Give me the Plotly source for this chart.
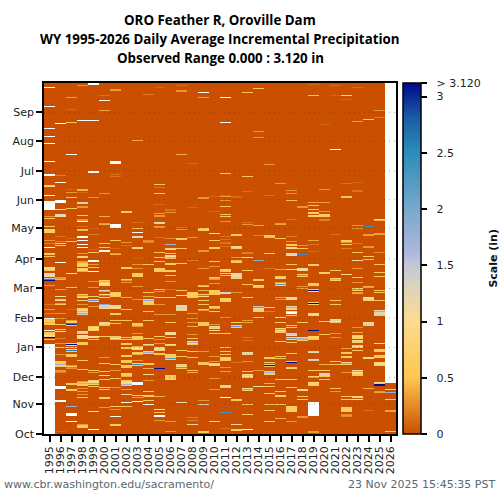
import numpy as np
import plotly.graph_objects as go

# Water years, one column each
years = list(range(1995, 2027))

# y axis: day of water year for each month tick (as drawn on the source chart)
month_names = ['Oct', 'Nov', 'Dec', 'Jan', 'Feb', 'Mar', 'Apr', 'May', 'Jun', 'Jul', 'Aug', 'Sep']
month_days = [0, 31, 59, 90, 120.5, 151.5, 182, 214, 243.5, 273.5, 304.5, 334.5]

# Colorbar
scale_ticks = [0, 0.5, 1, 1.5, 2, 2.5, 3, 3.12]
scale_labels = ['0', '0.5', '1', '1.5', '2', '2.5', '3', '> 3.120']
zmax = 3.12

title_lines = ['ORO Feather R, Oroville Dam',
               'WY 1995-2026 Daily Average Incremental Precipitation',
               'Observed Range 0.000 : 3.120 in']

# Days with rain, day of water year -> inches. None = no data (white)
wy1995 = {360: None, 340: None, 317: None, 309: None, 302: None, 283: None, 269: None, 268: None, 258: 0.6, 257: 0.9,
          248: None, 241: None, 240: None, 239: None, 238: None, 237: None, 236: None, 235: None, 234: None, 233: None,
          226: 0.3, 224: 0.6, 215: 0.55, 212: 0.7, 211: 0.6, 210: 0.6, 209: 0.7, 201: 0.3, 198: 0.2, 193: None, 187: 0.6,
          186: 0.5, 184: 0.5, 173: 1.0, 172: 1.1, 171: 0.7, 170: 0.5, 166: 0.9, 165: 1.3, 164: 1.1, 163: 0.9, 161: 1.5, 159: 3.12, 154: 0.3, 134: 0.15, 129: 0.3, 125: 0.2,
          120: None, 119: 0.5, 118: 0.6, 117: 0.6, 116: 0.4, 115: 0.4, 114: 0.6, 113: 0.5, 107: None, 105: 0.5, 104: 0.7, 103: 0.6, 102: 1.0, 101: 1.2, 100: 3.12, 98: 0.5}
wy1995_missing = [0, 93]
wy1996 = {322: None, 268: 0.2, 261: None, 242: None, 241: None, 240: None, 233: 1.0, 228: 1.3, 227: 1.2, 226: 1.1,
          205: 0.15, 200: 0.2, 198: 1.3, 196: 0.5, 178: None, 162: 0.3, 161: 0.3, 160: 0.4, 150: 0.35, 143: 1.1, 142: 0.6, 139: 1.5, 138: 1.1, 135: 0.3, 134: 0.6,
          125: 0.3, 120: 0.3, 113: 0.5, 108: 1.2, 106: 1.0, 99: 0.2, 94: 0.3, 89: 1.2, 82: 0.3, 75: 0.7, 74: 0.5, 73: 1.4, 72: 1.8, 71: 1.3, 70: 0.5,
          66: 0.3, 65: 0.3, 63: 0.2, 49: None, 48: None, 47: None, 34: None, 33: None, 2: 0.1}
wy1997 = {349: 0.35, 337: 0.1, 323: 0.55, 290: None, 254: 0.1, 251: 0.3, 245: 0.55, 234: 0.5, 203: 0.1, 200: 0.5,
          166: 1.0, 152: 0.5, 129: 0.1, 118: 0.3, 117: 0.9, 116: 1.8, 115: 0.6, 113: 3.0, 112: 0.6, 94: 0.7, 93: 3.12, 92: 1.1, 89: 0.7, 87: 0.8, 86: 2.6, 85: 0.7, 82: 0.6, 81: 0.6, 80: 0.6, 71: 0.3,
          70: 0.6, 69: 0.2, 68: 0.3, 64: 0.55, 52: 0.55, 51: 0.6, 46: 0.55, 45: 0.6, 28: 1.8, 21: None, 20: None, 19: None, 13: None}
wy1998 = {362: 0.3, 326: None, 254: 0.4, 253: 0.4, 251: 0.1, 240: 1.2, 239: 0.7, 236: 0.3, 235: 0.3, 227: 0.55,
          223: 0.3, 222: 0.3, 220: None, 215: 0.15, 212: 0.55, 211: 0.4, 205: None, 204: None, 201: None, 197: None, 193: None,
          195: 0.6, 187: 0.3, 184: 0.6, 183: 0.7, 179: 0.3, 178: 0.35, 177: 0.6, 176: 0.7, 175: 0.7, 174: 0.5, 172: 0.6, 171: 0.8, 170: 0.7, 169: 0.4, 145: 0.6, 144: 0.3, 143: 0.5, 141: 1.0,
          138: 0.7, 134: 0.3, 130: 0.6, 129: 0.6, 128: 1.0, 127: 1.6, 126: 1.2, 125: 1.8, 124: 1.4, 106: 0.9, 105: 1.3, 104: 0.6, 102: 1.0, 101: 1.1, 100: 0.9, 99: 0.7, 95: 0.55, 94: 0.6, 93: 0.5, 76: 0.55, 67: 1.5,
          54: 0.3, 53: 0.6, 52: 0.4, 51: 0.6, 50: 0.6, 47: 0.3, 44: 0.3, 41: 0.3, 37: 0.55, 9: 0.3, 8: 0.6, 7: 0.6, 6: 0.6}
wy1999 = {365: None, 364: None, 363: None, 326: None, 272: None, 271: None, 245: 0.3, 213: 0.1, 207: 0.2, 191: 0.1, 188: 0.55,
          180: None, 179: None, 176: 0.3, 173: 0.5, 169: None, 158: 0.3, 152: 0.3, 143: 0.6, 142: 0.55, 139: 0.7, 138: 2.2, 137: 1.3, 132: 0.3, 111: 0.6, 110: 1.1,
          109: 0.7, 108: 1.1, 107: 0.6, 101: 1.0, 100: 1.0, 98: 0.55, 66: 0.55, 63: 0.3, 55: 0.6, 54: 1.0, 53: 1.1, 52: 1.8, 51: 0.7, 49: 0.6, 23: 1.0, 4: None}
wy2000 = {352: 0.15, 346: None, 336: 0.35, 250: 0.3, 226: 0.4, 218: 0.3, 217: 0.4, 198: 0.6, 193: 0.55, 190: None, 189: None,
          159: 0.6, 158: 0.4, 157: 0.5, 156: 1.0, 155: 1.0, 154: 1.2, 149: 1.3, 148: 1.8, 145: 1.0, 144: 2.2, 141: 0.8, 134: 1.9, 133: 1.2, 132: 1.5, 131: 1.3, 130: 0.8, 115: 1.3, 114: 1.1, 113: 0.6, 112: 0.55, 101: 0.6, 79: 0.3,
          73: 0.55, 65: 0.55, 60: 1.1, 56: 0.55, 48: 0.6, 46: 0.55, 37: 0.7, 36: 0.6, 27: 1.9}
wy2001 = {358: 0.3, 357: 0.35, 283: None, 282: None, 281: None, 269: 0.15, 267: 0.15, 217: None, 216: None, 215: None, 214: None,
          201: 0.55, 192: 0.1, 187: 0.3, 186: 0.4, 147: 0.6, 146: 0.6, 145: 0.7, 144: 0.6, 143: 0.5, 133: 1.0, 132: 1.2, 131: 1.1, 130: 0.8, 125: 0.55, 124: 0.55, 118: 0.55, 114: 0.5,
          101: 0.6, 100: 0.5, 99: 1.1, 98: 1.6, 72: 0.55, 66: 0.3, 57: 0.5, 48: 0.3, 28: 0.5, 25: 0.3, 18: None, 9: 0.6, 8: 0.6}
wy2002 = {231: 0.55, 230: 0.5, 199: 0.3, 196: 0.15, 173: 0.55, 172: 0.6, 160: 0.55, 159: 0.3, 157: 0.3, 141: 0.4, 129: 0.55, 118: 0.5, 100: 0.5, 98: 0.55,
          94: 0.6, 93: 0.55, 90: 0.6, 89: 0.55, 88: 0.5, 81: 0.5, 80: 0.5, 76: 0.6, 75: 0.6, 74: 0.5, 71: 0.6, 70: 0.55, 69: 0.5, 62: 0.7, 61: 0.6, 60: 0.5, 59: 0.4, 55: 0.6, 54: 1.2, 53: 1.0, 52: 1.1, 51: 1.7, 50: 0.6, 46: 0.3, 41: 1.1, 32: None, 28: 0.5}
wy2003 = {325: 0.4, 305: 0.4, 219: 0.15, 213: 0.5, 209: None, 205: 1.2, 204: 0.8, 193: 1.3, 192: 0.9, 182: 0.1, 176: 0.3, 172: 0.3,
          166: 0.6, 165: 0.6, 164: 0.55, 163: 0.6, 153: 0.3, 139: 0.3, 114: 0.6, 113: 0.6, 112: 0.5, 111: 0.3, 104: 0.3, 101: 0.6, 100: 0.6, 99: 0.55, 98: 0.5, 91: 0.4, 90: 0.6, 89: 1.1, 88: 1.1, 87: 1.2, 84: 0.6, 83: 0.6, 82: 0.4,
          76: 0.3, 73: 1.2, 72: 2.4, 71: 0.55, 53: None, 52: None, 51: None, 40: 0.55, 37: 1.8, 33: None}
wy2004 = {353: 0.2, 221: 0.15, 201: 0.25, 200: 0.3, 199: 0.2, 176: 0.5, 147: 0.55, 143: 0.4, 142: 0.6, 139: 1.2, 138: 1.9, 137: 1.3, 136: 0.6, 135: 0.55, 134: 0.5, 127: 0.55,
          118: 0.55, 99: 0.55, 93: 1.2, 92: 1.8, 85: 1.2, 84: 1.8, 83: 0.55, 73: 0.5, 72: 0.55, 68: 0.4, 61: 1.0, 55: 0.3, 44: 0.55, 40: 0.6, 39: 0.6, 38: 0.55, 34: 0.55, 30: None}
wy2005 = {360: 0.1, 259: 0.55, 256: 0.15, 250: 0.5, 238: 0.1, 229: 1.8, 227: 0.3, 226: 0.3, 219: 1.2, 218: 0.7, 215: 0.3, 214: 0.3,
          204: 0.15, 188: 0.5, 183: 0.5, 179: 0.55, 172: 0.7, 171: 0.6, 170: 0.6, 169: 0.5, 150: 0.5, 148: 0.3, 141: 0.55, 134: 0.3, 124: 0.3,
          101: 0.55, 98: 0.3, 94: 0.3, 90: 1.2, 89: 1.1, 88: 1.2, 87: 1.1, 86: 0.6, 83: 0.55, 82: 0.55, 68: 3.12, 39: 0.4, 25: 1.0, 22: 0.5, 19: None, 18: None, 14: 0.3}
wy2006 = {233: 0.15, 232: 0.15, 230: 0.3, 203: 0.25, 197: 1.7, 192: 0.7, 191: 0.8, 187: 0.5, 185: 0.8, 184: 1.1, 183: 1.6, 182: 0.6, 177: 0.5, 176: 0.6,
          170: 0.6, 169: 0.55, 164: 0.5, 158: 0.3, 150: 2.3, 141: 0.55, 124: 0.3, 115: 0.5, 105: 1.2, 104: 1.1, 103: 0.9, 100: 0.5, 93: 1.0, 92: 1.5, 90: 0.3, 82: 0.6, 81: 0.6, 80: 0.6,
          79: 1.3, 78: 2.3, 77: 0.6, 60: 0.6, 59: 0.6, 58: 0.5, 57: 0.6, 56: 0.55, 38: 0.55, 13: 0.3, 2: 0.3}
wy2007 = {362: 0.15, 357: 0.3, 356: 0.3, 290: 0.4, 247: 0.5, 214: 0.15, 212: 0.3, 203: 0.6, 202: 0.55, 195: 0.5, 192: 0.55,
          177: 0.5, 149: 0.55, 144: 1.0, 133: 1.1, 132: 1.2, 131: 1.3, 130: 1.4, 129: 1.0, 128: 0.6, 86: 0.55, 80: 0.5, 72: 0.7, 71: 0.55, 70: 1.1, 69: 2.2, 68: 0.5, 32: 1.2}
wy2008 = {281: 0.12, 235: 0.1, 204: 0.3, 180: 0.2, 147: 0.6, 146: 0.6, 145: 0.6, 144: 0.6, 143: 0.55, 142: 0.6, 141: 0.5, 125: 0.3, 120: 0.3, 115: 0.3, 111: 0.4,
          103: 0.3, 99: 0.55, 96: 0.9, 95: 1.8, 94: 1.1, 93: 0.5, 85: 0.55, 79: 0.5, 66: 0.55, 63: 0.4, 17: 0.2, 14: 0.2, 9: 1.1}
wy2009 = {355: None, 349: 0.35, 245: 0.3, 244: 0.3, 213: 0.55, 212: 0.6, 211: 0.6, 190: 0.3, 189: 0.3, 172: 0.3, 154: 0.4, 153: 0.55, 149: 0.4,
          145: 0.7, 144: 2.3, 143: 1.0, 138: 0.6, 134: 0.55, 129: 0.55, 128: 0.3, 115: 0.55, 114: 0.6, 113: 0.6, 112: 0.55, 85: 0.3, 74: 0.55, 73: 0.55, 72: 0.6, 34: 0.3, 30: 1.3, 2: 0.6, 1: 0.6}
wy2010 = {246: 0.1, 231: 0.1, 221: 0.4, 208: 1.1, 201: 0.55, 193: 0.6, 192: 0.6, 179: 0.55, 174: 0.3, 162: 0.6, 161: 0.4, 160: 0.3, 156: 0.3, 149: 0.55,
          148: 0.6, 147: 0.5, 146: 0.6, 145: 0.55, 132: 0.6, 131: 0.55, 130: 0.4, 127: 0.6, 113: 0.3, 111: 1.2, 110: 1.4, 109: 0.9, 107: 0.9, 104: 0.5, 80: 0.3, 75: 0.3, 73: 0.7, 72: 1.0, 71: 1.1, 57: 0.3, 46: 0.3, 13: 1.3}
wy2011 = {349: None, 325: 0.55, 323: None, 270: 0.5, 248: 0.12, 246: 0.3, 242: 0.3, 236: 0.5, 228: 0.55, 226: 0.6, 220: 0.3, 205: 0.15,
          202: 0.15, 199: 0.15, 198: 0.15, 194: 0.15, 171: 0.6, 170: 0.6, 169: 0.5, 168: 0.3, 166: 0.55, 164: 0.5, 147: 1.4, 146: 0.9, 140: 0.6, 139: 0.7, 138: 0.6, 137: 0.6,
          121: 0.3, 104: 0.55, 89: 0.55, 85: 0.6, 82: 0.55, 79: 0.6, 78: 0.7, 77: 0.7, 76: 0.6, 69: 0.3, 65: 0.35, 50: 0.7, 49: 1.1, 48: 0.7, 37: None, 22: 2.3, 5: 0.15}
wy2012 = {246: 0.12, 245: 0.1, 207: 0.6, 206: 0.55, 194: 1.2, 193: 0.9, 192: 0.6, 183: 0.3, 180: 0.4, 179: 0.55, 178: 0.6, 166: 0.9, 165: 1.3, 164: 1.1, 163: 1.2, 162: 1.4, 161: 0.8,
          147: 0.3, 115: 0.55, 112: 1.3, 111: 2.2, 110: 0.7, 74: 0.15, 35: 0.6, 34: 0.5, 9: 1.1, 4: 0.6, 3: 0.6}
wy2013 = {355: 0.5, 267: 0.55, 252: 0.12, 219: 0.15, 217: 0.3, 188: 0.2, 187: 0.2, 183: 1.1, 170: 0.55, 155: 0.55, 141: 0.55, 118: 0.3, 115: 0.35,
          100: 0.15, 97: 0.15, 84: 1.1, 83: 1.4, 82: 1.2, 75: 0.3, 65: 0.6, 64: 0.7, 61: 1.0, 60: 1.4, 59: 1.0, 58: 0.7, 47: 1.2, 46: 1.8, 45: 0.6, 30: 0.55, 20: 0.55, 4: None}
wy2014 = {359: 0.5, 314: 0.3, 308: 0.3, 216: 0.35, 206: 0.2, 180: 1.9, 160: 0.55, 159: 0.6, 154: 1.1, 153: 0.6, 152: 0.5, 132: 1.5, 131: 2.2, 130: 1.0, 129: 0.8, 128: 0.7, 127: 0.6,
          121: 0.55, 66: 0.3, 49: 1.1}
wy2015 = {351: 0.1, 280: 0.3, 248: 0.15, 206: 0.5, 205: 0.6, 204: 0.5, 187: 0.55, 172: 0.15, 131: 0.55, 127: 2.2, 79: 0.55, 78: 0.6, 74: 0.6, 72: 1.3, 71: 3.12, 70: 0.5,
          65: 0.7, 64: 0.7, 63: 1.8, 62: 0.7, 61: 0.5, 52: 0.4, 49: 0.5, 42: 0.55, 30: 0.55, 24: 0.55, 13: 0.5}
wy2016 = {260: 0.3, 218: 0.3, 217: 0.35, 203: 0.55, 195: 0.2, 171: 0.35, 163: 0.6, 162: 0.7, 161: 0.8, 157: 0.3, 156: 1.2, 155: 2.2, 154: 0.7, 141: 0.4, 139: 0.3, 121: 1.0, 115: 0.6,
          109: 0.8, 108: 1.8, 107: 0.9, 106: 0.6, 105: 0.6, 96: 0.55, 80: 0.5, 78: 0.55, 56: 0.55, 44: 0.55, 40: 0.7, 39: 0.6, 38: 0.6, 30: 0.55, 16: 0.4}
wy2017 = {253: 0.3, 250: 0.3, 242: 0.5, 223: 0.15, 205: 0.2, 200: 0.3, 197: 0.6, 196: 0.6, 193: 1.0, 192: 0.9, 187: 1.2, 186: 1.3, 185: 1.2, 176: 0.55,
          171: 1.0, 142: 1.0, 141: 1.1, 140: 1.2, 139: 0.9, 132: 1.2, 131: 1.8, 130: 0.9, 129: 1.2, 127: 1.0, 126: None, 125: None, 123: 0.6, 112: 0.5, 110: 0.6, 104: 0.8, 103: 1.5, 102: 0.9, 100: 1.2, 99: 2.2, 98: 0.8, 95: 0.55, 83: 0.5,
          75: 0.6, 74: 3.12, 69: 0.7, 68: 0.8, 56: 0.55, 48: 1.4, 28: 0.7, 27: 0.55, 26: 0.7, 25: 0.6, 24: 0.6, 23: 0.7, 13: 0.3, 12: 0.3}
wy2018 = {236: 0.3, 235: 0.3, 196: 0.3, 195: 0.3, 192: 0.5, 186: 2.4, 172: 1.1, 171: 1.2, 170: 1.1, 165: 0.7, 164: 2.2, 163: 0.6, 153: 0.3, 151: 0.35, 115: 0.55, 100: 1.2, 99: 1.7, 98: 1.8, 97: 0.7, 46: 0.7, 45: 1.1,
          39: 0.55, 35: 0.55, 18: 0.3, 17: 0.3}
wy2019 = {363: 0.12, 352: 0.5, 240: 0.35, 237: 0.55, 233: 0.6, 230: 0.7, 229: 0.7, 227: 0.8, 226: 0.7, 201: 0.35, 197: 0.15, 189: 0.15, 176: 0.7, 175: 0.6,
          156: 0.6, 155: 0.7, 154: 0.6, 150: 0.5, 149: 3.12, 148: 1.1, 136: 0.8, 135: 3.12, 134: 0.7, 125: 0.7, 124: 1.1, 123: 0.7, 107: 3.12, 101: 0.7, 100: 0.7, 99: 0.6, 98: 0.5, 85: 0.7, 84: 1.2, 77: 0.9, 76: 1.4, 66: 0.5, 59: 0.8, 58: 1.8, 53: 0.9, 52: 1.4, 51: 0.7, 50: 0.6,
          2: 0.3, 1: 0.3}
wy2019_missing = [19, 32]
wy2020 = {321: 0.1, 254: 0.3, 240: 0.35, 231: 0.3, 228: 0.7, 227: 0.7, 226: 0.65, 223: 0.2, 222: 0.2, 168: 0.6, 167: 0.6, 166: 0.55, 117: 0.55, 103: 0.5, 72: 0.4, 66: 0.55,
          62: 0.8, 61: 1.4, 60: 1.3, 59: 0.6, 56: 0.55}
wy2021 = {362: 0.12, 352: 0.1, 295: None, 207: 0.15, 170: 0.55, 161: 0.8, 160: 1.7, 159: 0.7, 138: 0.55, 134: 0.55, 119: 0.9, 118: 1.3, 117: 1.1, 116: 0.6, 115: 0.55, 104: 0.3, 100: 0.3, 75: 0.55, 72: 0.5,
          47: 0.5, 44: 0.3}
wy2022 = {352: 1.0, 347: 0.12, 260: 0.15, 246: 0.55, 245: 0.5, 221: 0.4, 201: 0.7, 200: 0.6, 199: 0.3, 197: 0.55, 195: 0.9, 192: 0.2, 165: 1.0, 88: 0.35, 84: 0.55, 83: 0.5, 80: 0.55, 79: 0.5,
          74: 1.2, 73: 1.9, 72: 0.6, 63: 0.3, 39: 0.55, 35: 0.55, 27: 0.5, 26: 0.6, 25: 0.7, 24: 0.55, 23: 0.6, 20: 0.25, 19: 0.3, 18: 0.25}
wy2023 = {360: 0.12, 324: 0.35, 261: 0.1, 253: 0.15, 252: 0.15, 216: 0.3, 213: 0.3, 198: 0.15, 188: 0.5, 180: 1.1, 172: 0.3, 162: 0.6, 157: 0.3, 151: 0.8, 150: 2.2, 149: 0.7,
          147: 0.3, 146: 0.4, 110: 0.3, 105: 0.4, 102: 0.6, 101: 0.7, 100: 0.8, 99: 0.6, 97: 1.1, 96: 1.4, 95: 0.7, 92: 0.6, 91: 1.1, 90: 1.2, 89: 0.7, 86: 0.55, 66: 1.1, 65: 1.8, 64: 0.8, 63: 0.9, 62: 1.2, 61: 0.5, 60: 0.6, 39: 0.9, 38: 1.4, 37: 1.1, 35: 1.0}
wy2024 = {327: 0.55, 215: 2.4, 207: 0.3, 206: 0.35, 194: 0.3, 193: 0.3, 184: 0.55, 181: 0.5, 153: 0.4, 152: 0.35, 142: 0.7, 141: 1.0, 140: 1.1, 139: 0.8, 138: 0.7, 115: 0.8, 114: 1.2, 113: 1.4, 112: 0.7, 79: 0.8, 78: 1.1,
          47: 0.4, 24: 0.15}
wy2025 = {336: 0.3, 329: 0.2, 223: 1.1, 222: 0.4, 208: 0.35, 207: 0.35, 188: 0.25, 176: 0.55, 167: 0.55, 163: 0.6, 149: 0.55, 147: 0.5, 138: 0.55, 128: 1.1, 127: 1.8, 126: 1.3, 125: 1.3, 124: 1.2, 123: 0.6,
          94: 1.1, 87: 0.55, 86: 0.5, 85: 0.55, 81: 0.55, 80: 0.5, 79: 0.6, 74: 0.7, 73: 1.0, 72: 1.1, 71: 0.6, 53: 1.0, 52: 0.6, 51: 3.12, 50: 3.12, 44: 0.3, 43: 0.35}
wy2026 = {46: 0.9, 43: 1.8, 35: 0.7, 24: 0.35, 23: 0.35, 12: 0.3, 2: 0.6}
wy2026_missing = [53, 365]

rain_by_year = [wy1995, wy1996, wy1997, wy1998, wy1999, wy2000, wy2001, wy2002,
                wy2003, wy2004, wy2005, wy2006, wy2007, wy2008, wy2009, wy2010,
                wy2011, wy2012, wy2013, wy2014, wy2015, wy2016, wy2017, wy2018,
                wy2019, wy2020, wy2021, wy2022, wy2023, wy2024, wy2025, wy2026]
missing_spans = {1995: wy1995_missing, 2019: wy2019_missing, 2026: wy2026_missing}

# Build the grid: dry days are 0
z = np.zeros((366, len(years)))
for col, rain in enumerate(rain_by_year):
    for day, val in rain.items():
        z[day, col] = np.nan if val is None else val
for yr, (start, end) in missing_spans.items():
    z[start:end + 1, years.index(yr)] = np.nan
days = np.arange(366) + 0.5

colorscale = [[0 / zmax, '#cb4f00'], [0.5 / zmax, '#fdc64f'], [1 / zmax, '#fddb8f'],
              [1.3 / zmax, '#ddd4bb'], [1.5 / zmax, '#c4c8d6'], [1.6 / zmax, '#b0b8dc'],
              [2 / zmax, '#78a8cc'], [2.5 / zmax, '#2c8dba'], [2.8 / zmax, '#1a5fa5'], [1, '#000a8a']]

font_name = 'DejaVu Sans'

fig = go.Figure(data=[go.Heatmap(
    z=z, x=years, y=days, zmin=0, zmax=zmax, zsmooth=False, colorscale=colorscale,
    hoverongaps=False,
    colorbar=dict(x=1.021, xanchor='left', xpad=0, y=0.5, len=1, lenmode='fraction', ypad=0,
                  thickness=18, thicknessmode='pixels', outlinecolor='black', outlinewidth=1.5,
                  tickmode='array', tickvals=scale_ticks,
                  ticktext=['\u00a0\u00a0' + s for s in scale_labels],
                  ticks='outside', ticklen=6, tickwidth=1.5, tickcolor='black',
                  tickfont=dict(family=font_name, size=11, color='#222')))])

# Dotted month lines sit on top of the cells
for d in month_days[1:]:
    fig.add_shape(type='line', xref='paper', x0=0, x1=1, yref='y', y0=d, y1=d, layer='above',
                  line=dict(color='rgba(60,40,20,0.4)', width=1, dash='1px,4px'))

notes = [dict(text='<b>Scale (in)</b>', xref='paper', yref='paper', x=1.30, y=0.5, textangle=-90, showarrow=False,
              font=dict(family=font_name, size=11, color='#111')),
         dict(text='www.cbr.washington.edu/sacramento/', xref='paper', yref='paper', x=-0.1195, y=-0.145,
              xanchor='left', yanchor='middle', showarrow=False, font=dict(family=font_name, size=11, color='#5b6770')),
         dict(text='23 Nov 2025 15:45:35 PST', xref='paper', yref='paper', x=1.287, y=-0.145,
              xanchor='right', yanchor='middle', showarrow=False, font=dict(family=font_name, size=11, color='#5b6770'))]
# Title lines 19px apart, so one annotation each
for i, line in enumerate(title_lines):
    notes.append(dict(text='<b>' + line + '</b>', xref='paper', yref='paper', x=0.5, y=1 + (63 - 19 * i) / 351,
                      xanchor='center', yanchor='middle', showarrow=False,
                      font=dict(family='Open Sans', size=13.33, color='black')))

fig.update_layout(
    width=500, height=500, autosize=False,
    margin=dict(l=44, r=104, t=83, b=66),
    paper_bgcolor='white', plot_bgcolor='white',
    font=dict(family=font_name, size=11, color='#222'),
    xaxis=dict(range=[1994.5, 2026.5], tickmode='array', tickvals=years, ticktext=[str(y) for y in years],
               tickangle=-90, ticks='outside', ticklen=6, tickwidth=1.5, tickcolor='black',
               showline=True, linecolor='black', linewidth=1.5, mirror=True, showgrid=False, zeroline=False,
               tickfont=dict(family=font_name, size=11, color='#222')),
    yaxis=dict(range=[0, 365], tickmode='array', tickvals=month_days, ticktext=month_names,
               ticks='outside', ticklen=6, tickwidth=1.5, tickcolor='black',
               showline=True, linecolor='black', linewidth=1.5, mirror=True, showgrid=False, zeroline=False,
               tickfont=dict(family=font_name, size=11, color='#222')),
    annotations=notes)

# page default margin would push the 500px figure off the window
fig.write_html("out.html", config=dict(displayModeBar=False), post_script="document.body.style.margin='0';")
